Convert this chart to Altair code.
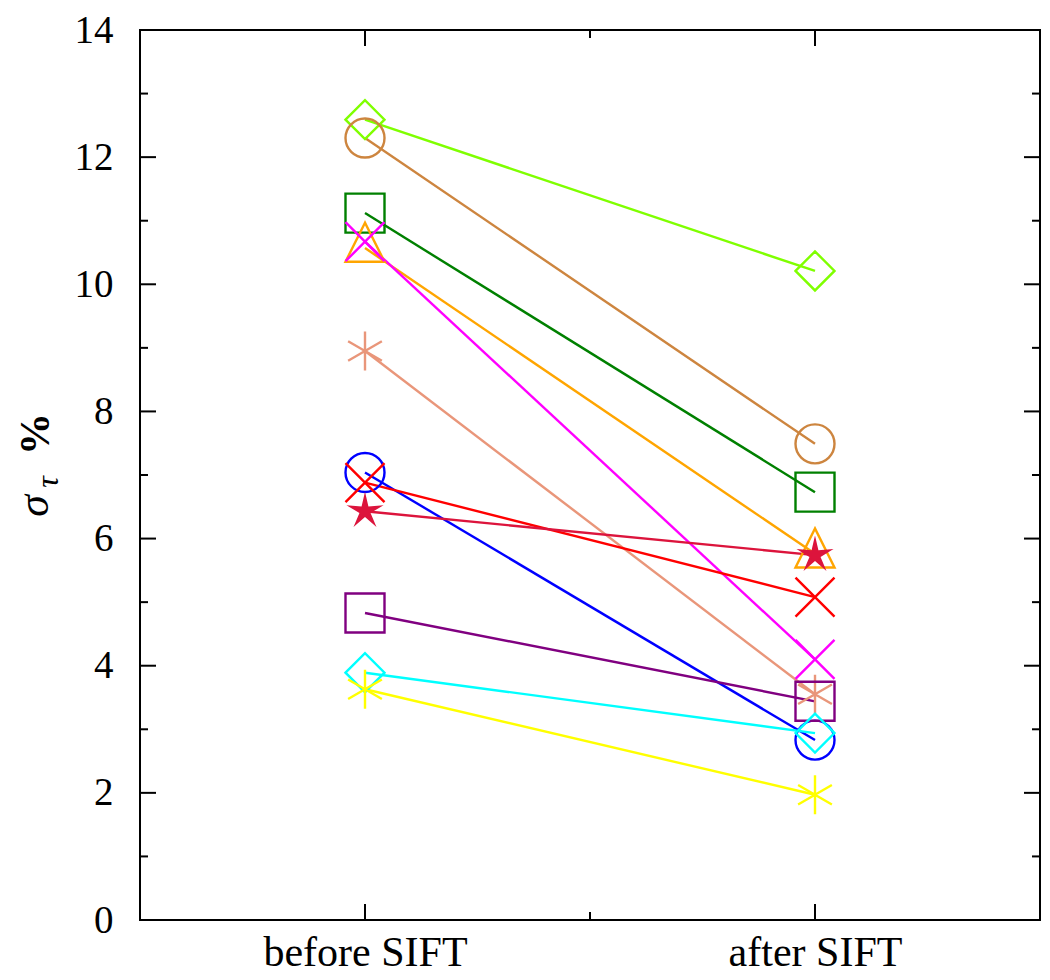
import altair as alt
import pandas as pd

# ---- data ----
series = ["s1", "s2", "s3", "s4", "s5", "s6", "s7", "s8", "s9", "s10", "s11", "s12"]
before = [12.59, 12.30, 11.12, 10.57, 10.67, 8.95, 7.04, 6.88, 6.43, 4.83, 3.89, 3.63]
after = [10.21, 7.49, 6.73, 5.76, 4.10, 3.55, 2.83, 5.08, 5.74, 3.44, 2.94, 1.97]
colors = ["#7fff00", "#cd853f", "#008000", "#ffa500", "#ff00ff", "#e9967a",
          "#0000ff", "#ff0000", "#dc143c", "#800080", "#00ffff", "#ffff00"]

DIAMOND = "diamond"
CIRCLE = "circle"
SQUARE = "square"
TRIANGLE = "M0,-1.3L-1,0.7L1,0.7Z"
XMARK = "M-1,-1L1,1M-1,1L1,-1"
ASTER = "M0,-1L0,1M-0.866,-0.5L0.866,0.5M-0.866,0.5L0.866,-0.5"
STAR = ("M0,-1L0.176,-0.243L0.951,-0.309L0.285,0.093L0.588,0.809L0,0.3"
        "L-0.588,0.809L-0.285,0.093L-0.951,-0.309L-0.176,-0.243Z")
shapes = [DIAMOND, CIRCLE, SQUARE, TRIANGLE, XMARK, ASTER,
          CIRCLE, XMARK, STAR, SQUARE, DIAMOND, ASTER]
filled_series = ["s9"]

stage_pos = [1, 2]
stage_labels = ["before SIFT", "after SIFT"]
y_major = [0, 2, 4, 6, 8, 10, 12, 14]
y_minor = [1, 3, 5, 7, 9, 11, 13]
x_major = [1, 2]
x_minor = [1.5]

# ---- build table ----
rows = []
for s, b, a in zip(series, before, after):
    rows.append({"series": s, "stage": stage_pos[0], "value": b})
    rows.append({"series": s, "stage": stage_pos[1], "value": a})
df = pd.DataFrame(rows)

W, H = 900, 890
FONT = "Liberation Serif, Times New Roman, Times, serif"
LW = 2.4

xscale = alt.Scale(domain=[0.5, 2.5], nice=False, zero=False)
yscale = alt.Scale(domain=[0, 14], nice=False, zero=False)
cscale = alt.Scale(domain=series, range=colors)
sscale = alt.Scale(domain=series, range=shapes)

label_expr = ("datum.value == 1 ? '" + stage_labels[0] + "' : (datum.value == 2 ? '"
              + stage_labels[1] + "' : '')")

xaxis = alt.Axis(values=x_major, labelExpr=label_expr, title=None,
                 labelFontSize=42, labelPadding=12, labelFont=FONT, labelLimit=500,
                 labelColor="black", ticks=False, domain=False, grid=False)
yaxis = alt.Axis(values=y_major, format="d", title=None,
                 labelFontSize=39, labelPadding=27, labelFont=FONT, labelLimit=200,
                 labelColor="black", ticks=False, domain=False, grid=False)

X = lambda f: alt.X(f, scale=xscale, axis=xaxis, title=None)
Y = lambda f: alt.Y(f, scale=yscale, axis=yaxis, title=None)

lines = alt.Chart(df).mark_line(strokeWidth=LW).encode(
    x=X("stage:Q"),
    y=Y("value:Q"),
    color=alt.Color("series:N", scale=cscale, legend=None),
    detail="series:N",
)

open_pts = alt.Chart(df).transform_filter(
    ~alt.FieldOneOfPredicate(field="series", oneOf=filled_series)
).mark_point(filled=False, size=1521, strokeWidth=LW, opacity=1).encode(
    x=X("stage:Q"),
    y=Y("value:Q"),
    color=alt.Color("series:N", scale=cscale, legend=None),
    shape=alt.Shape("series:N", scale=sscale, legend=None),
)

star_pts = alt.Chart(df).transform_filter(
    alt.FieldOneOfPredicate(field="series", oneOf=filled_series)
).mark_point(filled=True, size=1521, opacity=1, strokeWidth=0).encode(
    x=X("stage:Q"),
    y=Y("value:Q"),
    color=alt.Color("series:N", scale=cscale, legend=None),
    shape=alt.Shape("series:N", scale=sscale, legend=None),
)

# ---- inward ticks on all four sides ----
ymaj_df = pd.DataFrame({"stage": [1.0] * len(y_major), "value": y_major})
ymin_df = pd.DataFrame({"stage": [1.0] * len(y_minor), "value": y_minor})
xmaj_df = pd.DataFrame({"stage": x_major, "value": [0.0] * len(x_major)})
xmin_df = pd.DataFrame({"stage": x_minor, "value": [0.0] * len(x_minor)})


def ytick(d, x0, x1):
    return alt.Chart(d).mark_rule(color="black", strokeWidth=2).encode(
        y=Y("value:Q"), x=alt.value(x0), x2=alt.value(x1))


def xtick(d, y0, y1):
    return alt.Chart(d).mark_rule(color="black", strokeWidth=2).encode(
        x=X("stage:Q"), y=alt.value(y0), y2=alt.value(y1))


ticks = [
    ytick(ymaj_df, 0, 16), ytick(ymin_df, 0, 8),
    ytick(ymaj_df, W - 16, W), ytick(ymin_df, W - 8, W),
    xtick(xmaj_df, H - 16, H), xtick(xmin_df, H - 8, H),
    xtick(xmaj_df, 0, 16), xtick(xmin_df, 0, 8),
]

# ---- y-axis title: sigma_tau % ----
one = pd.DataFrame({"a": [0]})
t_sigma = alt.Chart(one).mark_text(text="σ", font=FONT, fontSize=44, fontStyle="italic",
                                   angle=270, align="center", baseline="middle",
                                   color="black").encode(x=alt.value(-105), y=alt.value(476))
t_tau = alt.Chart(one).mark_text(text="τ", font=FONT, fontSize=32, fontStyle="italic",
                                 angle=270, align="center", baseline="middle",
                                 color="black").encode(x=alt.value(-92), y=alt.value(452))
t_pct = alt.Chart(one).mark_text(text="%", font=FONT, fontSize=42, fontWeight="bold",
                                 angle=270, align="center", baseline="middle",
                                 color="black").encode(x=alt.value(-104), y=alt.value(404))

chart = alt.layer(lines, open_pts, star_pts, *ticks, t_sigma, t_tau, t_pct).properties(
    width=W, height=H,
    background="white",
    autosize=alt.AutoSizeParams(type="none"),
    padding={"left": 132, "top": 22, "right": 2, "bottom": 56},
).configure_view(stroke="black", strokeWidth=2)

chart.save("out.html", embed_options={"renderer": "svg", "actions": False})
